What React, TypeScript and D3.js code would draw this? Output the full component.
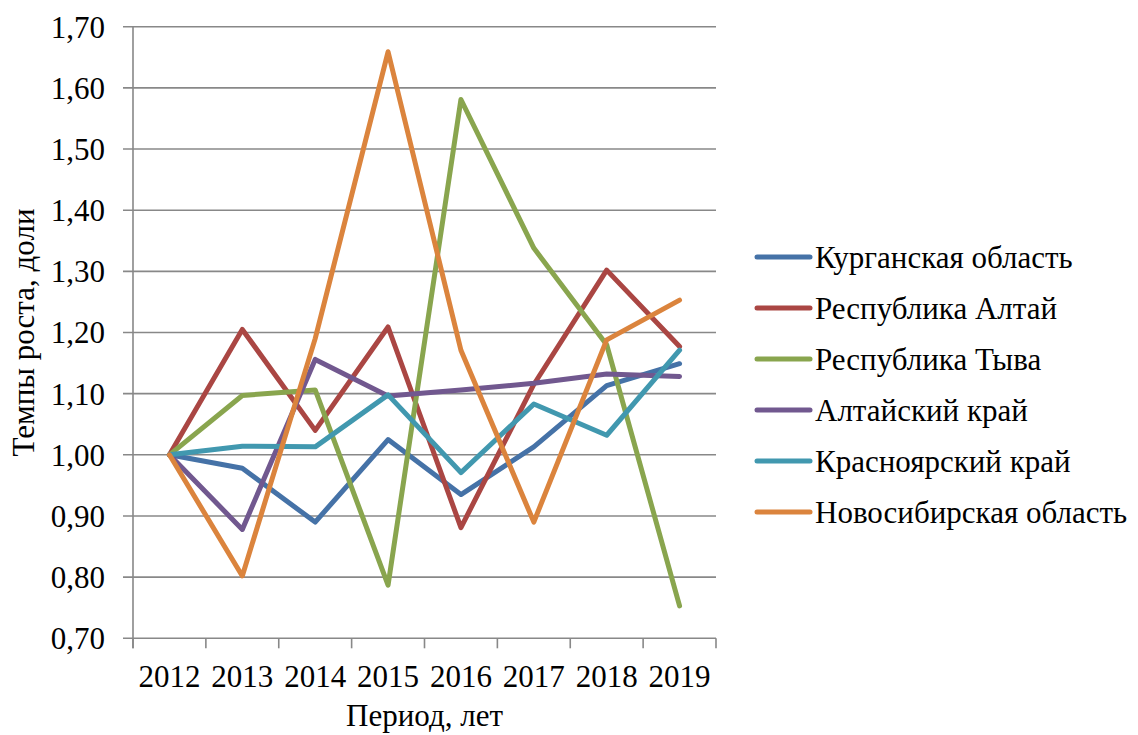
import React from 'react';
import * as d3 from 'd3';

const years = ['2012', '2013', '2014', '2015', '2016', '2017', '2018', '2019'];

const kurgan = [1.0, 0.978, 0.89, 1.025, 0.935, 1.013, 1.113, 1.149];
const altaiRep = [1.0, 1.205, 1.04, 1.209, 0.881, 1.115, 1.302, 1.177];
const tyva = [1.0, 1.097, 1.106, 0.787, 1.581, 1.338, 1.18, 0.753];
const altaiKrai = [1.0, 0.878, 1.156, 1.096, 1.106, 1.117, 1.132, 1.128];
const krasnoyarsk = [1.0, 1.014, 1.013, 1.098, 0.971, 1.083, 1.032, 1.171];
const novosib = [1.0, 0.802, 1.19, 1.659, 1.171, 0.89, 1.188, 1.253];

const seriesNames = [
  'Курганская область',
  'Республика Алтай',
  'Республика Тыва',
  'Алтайский край',
  'Красноярский край',
  'Новосибирская область',
];
const seriesValues = [kurgan, altaiRep, tyva, altaiKrai, krasnoyarsk, novosib];
const colors = ['#4572A7', '#AA4643', '#89A54E', '#71588F', '#4198AF', '#DB843D'];

const yTicks = [0.7, 0.8, 0.9, 1.0, 1.1, 1.2, 1.3, 1.4, 1.5, 1.6, 1.7];

const W = 1138;
const H = 735;
const plot = { left: 133, right: 716, top: 26.7, bottom: 638.3 };
const font = "'Liberation Serif', 'Times New Roman', serif";

export default function App() {
  const x = d3.scaleBand<string>().domain(years).range([plot.left, plot.right]);
  const y = d3.scaleLinear().domain([0.7, 1.7]).range([plot.bottom, plot.top]);
  const fmt = (v: number) => v.toFixed(2).replace('.', ',');

  const line = d3
    .line<number>()
    .x((_, i) => (x(years[i]) as number) + x.bandwidth() / 2)
    .y(d => y(d));

  const tickXs = years.map(yr => x(yr) as number).concat([plot.right]);
  const txt = { fontFamily: font, fontSize: 31, fill: '#000' } as React.CSSProperties;

  return (
    <div style={{ position: 'absolute', left: 0, top: 0 }}>
      <svg width={W} height={H} style={{ display: 'block', background: '#fff', fontFamily: font }}>
        {/* grid + y ticks */}
        {yTicks.map(t => (
          <g key={t}>
            <line x1={plot.left - 10} x2={plot.right} y1={y(t)} y2={y(t)} stroke="#888" strokeWidth={1.6} />
            <text x={105} y={y(t)} dy="0.35em" textAnchor="end" style={txt}>
              {fmt(t)}
            </text>
          </g>
        ))}
        {/* axes */}
        <line x1={plot.left} x2={plot.left} y1={plot.top} y2={plot.bottom + 10} stroke="#888" strokeWidth={1.6} />
        {tickXs.map((tx, i) => (
          <line key={i} x1={tx} x2={tx} y1={plot.bottom} y2={plot.bottom + 10} stroke="#888" strokeWidth={1.6} />
        ))}
        {years.map(yr => (
          <text key={yr} x={(x(yr) as number) + x.bandwidth() / 2} y={687} textAnchor="middle" style={txt}>
            {yr}
          </text>
        ))}
        <text x={(plot.left + plot.right) / 2} y={726} textAnchor="middle" style={txt}>
          Период, лет
        </text>
        <text
          transform={`translate(34, ${(plot.top + plot.bottom) / 2}) rotate(-90)`}
          textAnchor="middle"
          style={txt}
        >
          Темпы роста, доли
        </text>
        {/* series */}
        {seriesValues.map((vals, i) => (
          <path
            key={seriesNames[i]}
            d={line(vals) || ''}
            fill="none"
            stroke={colors[i]}
            strokeWidth={5}
            strokeLinejoin="round"
            strokeLinecap="round"
          />
        ))}
        {/* legend */}
        {seriesNames.map((name, i) => {
          const ly = 257 + i * 51;
          return (
            <g key={name}>
              <line x1={757} x2={810} y1={ly} y2={ly} stroke={colors[i]} strokeWidth={5} strokeLinecap="round" />
              <text x={815} y={ly} dy="0.35em" style={txt}>
                {name}
              </text>
            </g>
          );
        })}
      </svg>
    </div>
  );
}
